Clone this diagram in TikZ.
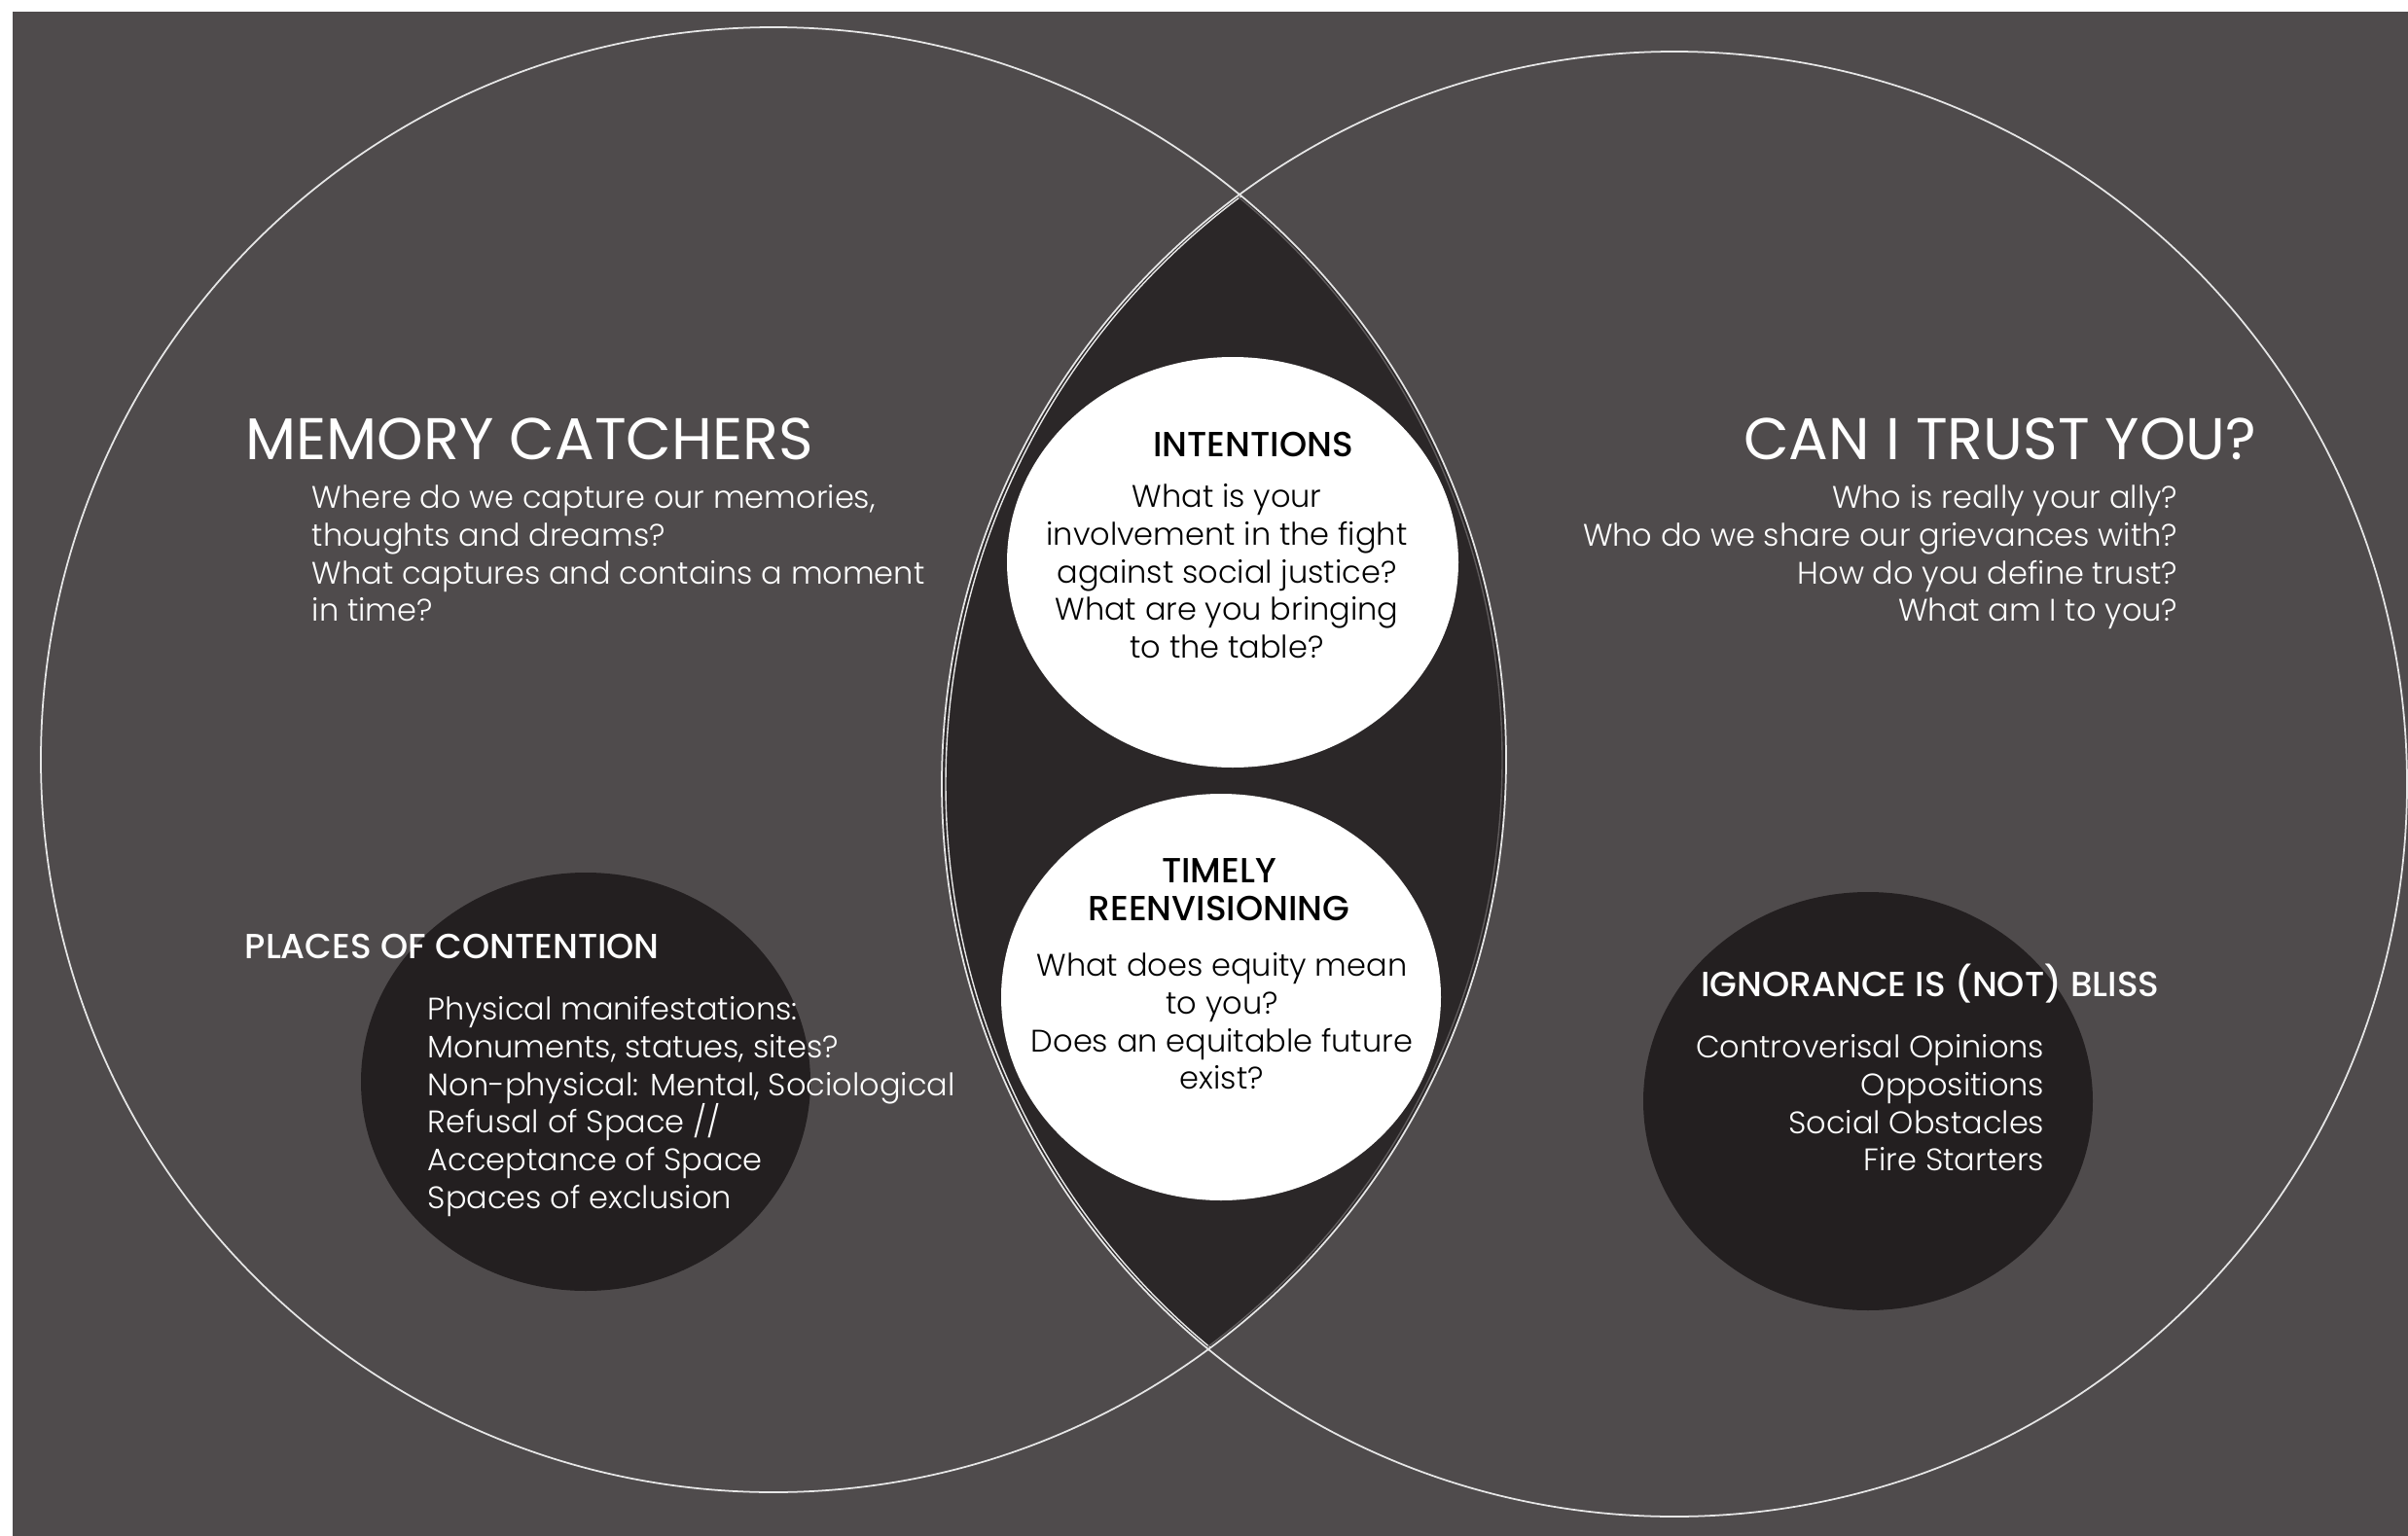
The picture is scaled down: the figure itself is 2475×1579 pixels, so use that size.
\documentclass[tikz,border=0pt]{standalone}
\usepackage{fontspec}
\setmainfont{Poppins Light}
\newfontfamily\titlefont{Poppins}
\newfontfamily\headfont{Poppins Medium}
\usepackage{tikz}
\definecolor{bggray}{HTML}{4F4B4C}
\definecolor{lensdark}{HTML}{2B2728}
\definecolor{spotdark}{HTML}{231F20}
\definecolor{rimwhite}{HTML}{E6E6E6}
\definecolor{rimgray}{HTML}{5E5A5B}
\setlength{\lineskiplimit}{-20pt}

\begin{document}
\begin{tikzpicture}[x=0.01cm, y=-0.01cm,
    rim/.style={draw=rimwhite, line width=0.5pt},
    bigtitle/.style={text=white, inner sep=0pt, font=\titlefont\fontsize{17.2}{20}\selectfont},
    headtitle/.style={inner sep=0pt, font=\headfont\fontsize{10.2}{11}\selectfont},
    bodytext/.style={inner sep=0pt, font=\fontsize{9.1}{11}\selectfont}]
    \useasboundingbox (0,0) rectangle (2475,1579);
    \fill[white] (0,0) rectangle (2475,1579);
    \fill[bggray] (13,12) rectangle (2475,1579);
    \coordinate (lc) at (795,781);
    \coordinate (rc) at (1721,806);
    \begin{scope}
        \clip (lc) circle[radius=753];
        \fill[lensdark] (rc) circle[radius=753];
        \draw[rimwhite, line width=0.4pt] (1725,806) circle[radius=753];
    \end{scope}
    \begin{scope}
        \clip (rc) circle[radius=753];
        \draw[rimgray, line width=0.4pt] (791,781) circle[radius=753];
    \end{scope}
    \draw[rim] (lc) circle[radius=753];
    \draw[rim] (rc) circle[radius=753];
    \fill[spotdark] (602,1112) ellipse[x radius=231, y radius=215];
    \fill[spotdark] (1920,1132) ellipse[x radius=231, y radius=215];
    \fill[white] (1267,578) ellipse[x radius=232, y radius=211];
    \fill[white] (1255,1025) ellipse[x radius=226, y radius=209];

    \node[bigtitle, anchor=base west] (memtitle) at (252,472) {MEMORY CATCHERS};
    \node[bodytext, text=white, align=left, anchor=north west] (memtext) at (320,498)
        {Where do we capture our memories,\\thoughts and dreams?\\What captures and contains a moment\\in time?};
    \node[bigtitle, anchor=base east] (trusttitle) at (2320,472) {CAN I TRUST YOU?};
    \node[bodytext, text=white, align=right, anchor=north east] (trusttext) at (2239,498)
        {Who is really your ally?\\Who do we share our grievances with?\\How do you define trust?\\What am I to you?};

    \node[headtitle, text=black, anchor=base] (inthead) at (1288,469) {INTENTIONS};
    \node[bodytext, text=black, align=center, anchor=north] (inttext) at (1261,497)
        {What is your\\involvement in the fight\\against social justice?\\What are you bringing\\to the table?};
    \node[headtitle, text=black, align=center, anchor=north] (timehead) at (1253,882) {TIMELY\\REENVISIONING};
    \node[bodytext, text=black, align=center, anchor=north] (timetext) at (1256,979)
        {What does equity mean\\to you?\\Does an equitable future\\exist?};

    \node[headtitle, text=white, anchor=base west] (placehead) at (251,985) {PLACES OF CONTENTION};
    \node[bodytext, text=white, align=left, anchor=north west] (placetext) at (439,1024)
        {Physical manifestations:\\Monuments, statues, sites?\\Non-physical: Mental, Sociological\\Refusal of Space //\\Acceptance of Space\\Spaces of exclusion};
    \node[headtitle, text=white, anchor=base] (blisshead) at (1984,1024) {IGNORANCE IS (NOT) BLISS};
    \node[bodytext, text=white, align=right, anchor=north east] (blisstext) at (2102,1063)
        {Controverisal Opinions\\Oppositions\\Social Obstacles\\Fire Starters};
\end{tikzpicture}
\end{document}
